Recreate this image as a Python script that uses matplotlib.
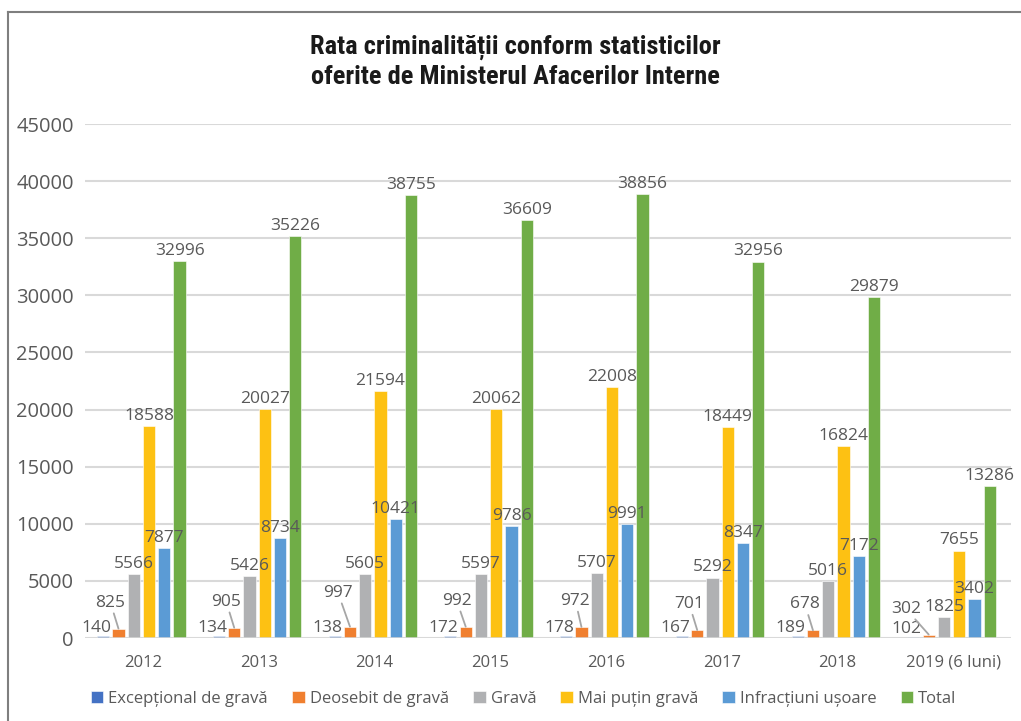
import matplotlib
matplotlib.use("Agg")
import matplotlib.pyplot as plt
from matplotlib.lines import Line2D
import numpy as np

plt.rcParams["font.family"] = ["Open Sans", "DejaVu Sans"]

W, H = 1021, 721

years = ["2012", "2013", "2014", "2015", "2016", "2017", "2018", "2019 (6 luni)"]
series = ["Excepțional de gravă", "Deosebit de gravă", "Gravă",
          "Mai puțin gravă", "Infracțiuni ușoare", "Total"]
exceptional = [140, 134, 138, 172, 178, 167, 189, 102]
deosebit = [825, 905, 997, 992, 972, 701, 678, 302]
grava = [5566, 5426, 5605, 5597, 5707, 5292, 5016, 1825]
mai_putin = [18588, 20027, 21594, 20062, 22008, 18449, 16824, 7655]
usoare = [7877, 8734, 10421, 9786, 9991, 8347, 7172, 3402]
total = [32996, 35226, 38755, 36609, 38856, 32956, 29879, 13286]
colors = ["#4472C4", "#F07F2F", "#B0B1B3", "#FDC113", "#5B9BD5", "#70AD47"]

# offsets (px) of the displaced "Deosebit de gravă" labels
deos_dx = [-8, -8, -12, -9, -6, -8, -8, -23]
deos_dy = [26, 26, 34, 26, 26, 26, 26, 26]

fig = plt.figure(figsize=(W / 100, H / 100), dpi=100, facecolor="white")
ax = fig.add_axes([85 / W, 1 - 638 / H, 926 / W, (638 - 124) / H])

data = [exceptional, deosebit, grava, mai_putin, usoare, total]
x = np.arange(len(years))
step, bw = 0.132, 0.105
LBL = "#595959"
FS = 12.5

for i, (vals, c) in enumerate(zip(data, colors)):
    xs = x + (i - 2.5) * step - 0.013
    ax.bar(xs, vals, bw, color=c, edgecolor="white", linewidth=0.4,
           label=series[i], zorder=3)
    for j, (xx, v) in enumerate(zip(xs, vals)):
        if i == 0:
            ax.annotate(str(v), (xx, v), xytext=(-7 * 0.72, 8 * 0.72),
                        textcoords="offset points", ha="center", va="center",
                        fontsize=FS, color=LBL, zorder=6)
        elif i == 1:
            ax.annotate(str(v), (xx, v), xytext=(deos_dx[j] * 0.72, deos_dy[j] * 0.72),
                        textcoords="offset points", ha="center", va="center",
                        fontsize=FS, color=LBL, zorder=6,
                        arrowprops=dict(arrowstyle="-", color="#A6A6A6", lw=1.3,
                                        shrinkA=0, shrinkB=0))
        else:
            ax.annotate(str(v), (xx, v), xytext=(0, 1.5),
                        textcoords="offset points", ha="center", va="bottom",
                        fontsize=FS, color=LBL, zorder=6)

ax.set_ylim(0, 45000)
ax.set_xlim(-0.5, len(years) - 0.5)
ax.set_yticks(range(0, 45001, 5000))
ax.set_xticks(x)
ax.set_xticklabels(years)
ax.yaxis.grid(True, color="#D9D9D9", lw=1.5, zorder=0)
ax.axhline(0, color="#D9D9D9", lw=1.8, zorder=4)
for s in ax.spines.values():
    s.set_visible(False)
ax.tick_params(axis="y", length=0, pad=8, labelsize=14.5, labelcolor=LBL)
ax.tick_params(axis="x", length=0, pad=12, labelsize=12, labelcolor=LBL)

fig.text(0.505, 1 - 61.5 / H,
         "Rata criminalității conform statisticilor\noferite de Ministerul Afacerilor Interne",
         ha="center", va="center", fontsize=19, fontweight="bold", color="#1A1A1A",
         linespacing=1.25,
         family=["Roboto Condensed", "Liberation Sans Narrow", "Roboto", "DejaVu Sans"])

leg = fig.legend(loc="center", bbox_to_anchor=(0.513, 1 - 699 / H), ncol=6,
                 frameon=False, fontsize=12, handlelength=0.75, handleheight=0.75,
                 handletextpad=0.3, columnspacing=1.45, borderaxespad=0)
for t in leg.get_texts():
    t.set_color(LBL)

# frame
fig.add_artist(Line2D([8 / W, 8 / W], [0, 1 - 12 / H], color="#7F7F7F", lw=1.5))
fig.add_artist(Line2D([8 / W, 1], [1 - 12 / H, 1 - 12 / H], color="#7F7F7F", lw=1.5))

fig.savefig("out.png", dpi=100, facecolor="white")
